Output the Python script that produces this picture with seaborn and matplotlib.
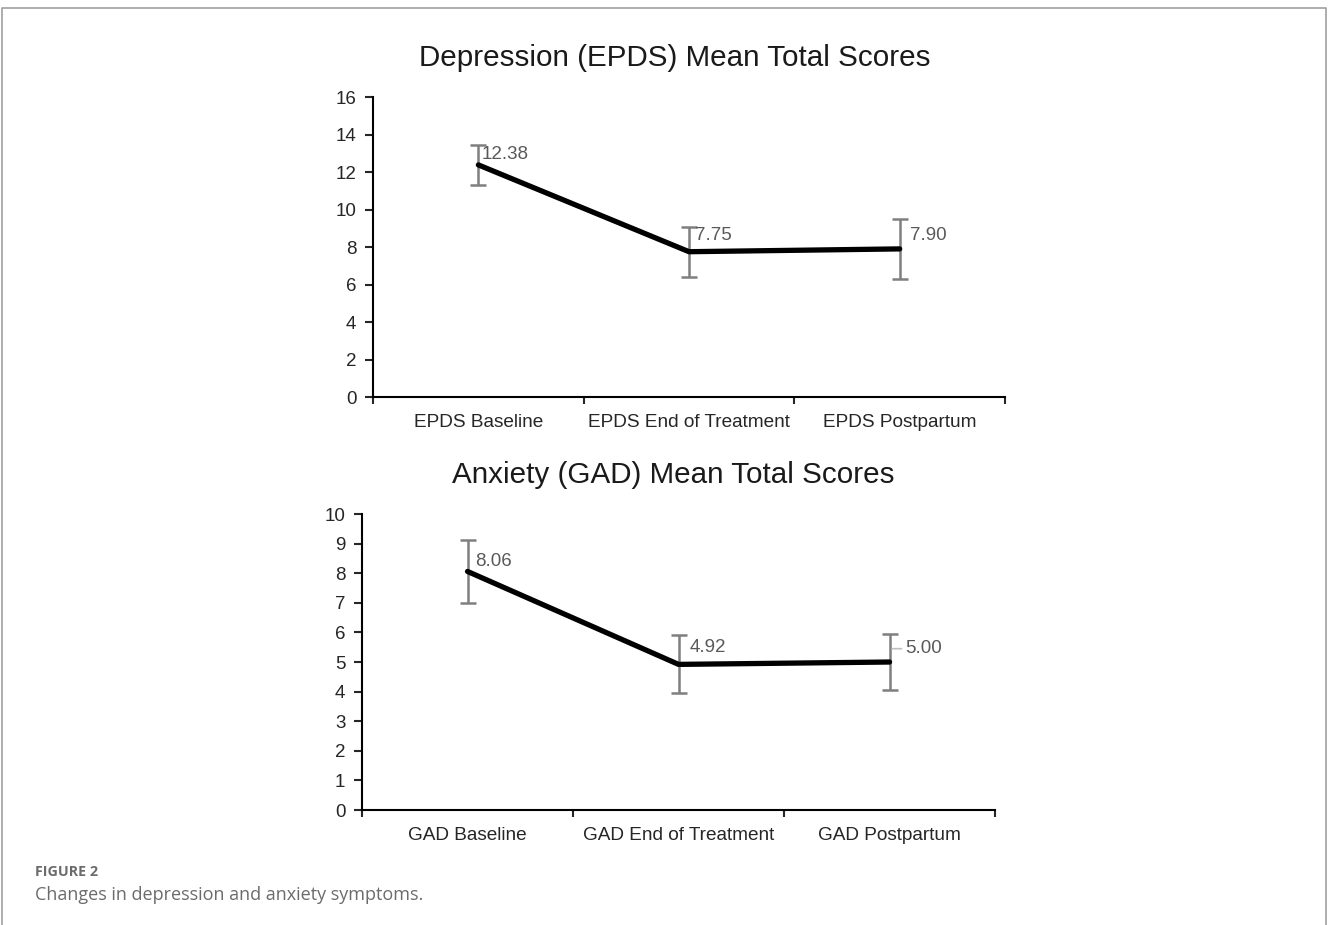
import matplotlib
matplotlib.use("Agg")
import matplotlib.pyplot as plt
import numpy as np
import pandas as pd
import seaborn as sns
from matplotlib.lines import Line2D

# values
epds_labels = ["EPDS Baseline", "EPDS End of Treatment", "EPDS Postpartum"]
epds_means = [12.38, 7.75, 7.90]
epds_err = [1.05, 1.33, 1.60]

gad_labels = ["GAD Baseline", "GAD End of Treatment", "GAD Postpartum"]
gad_means = [8.06, 4.92, 5.00]
gad_err = [1.05, 0.98, 0.95]

sns.set_style("white")
plt.rcParams['font.family'] = ['Liberation Sans', 'DejaVu Sans']

fig = plt.figure(figsize=(13.28, 9.25), dpi=100)
ax1 = fig.add_axes([0.2809, 0.5708, 0.4759, 0.3243])
ax2 = fig.add_axes([0.2726, 0.1243, 0.4767, 0.3200])


def panel(ax, labels, means, errs, title, ymax, ystep, offsets, title_x):
    df = pd.DataFrame({'time': labels, 'score': means})
    ax.errorbar(labels, means, yerr=errs, fmt='none', ecolor='#7f7f7f',
                elinewidth=1.8, capsize=6, capthick=1.8, zorder=2)
    sns.lineplot(data=df, x='time', y='score', ax=ax, color='black',
                 linewidth=3.8, sort=False, zorder=3)
    for i, (m, off) in enumerate(zip(means, offsets)):
        ax.annotate(f"{m:.2f}", xy=(i, m), xytext=off, textcoords='offset pixels',
                    ha='left', va='center', fontsize=13.5, color='#595959')
    ax.set_xlim(-0.5, 2.5)
    ax.set_ylim(0, ymax)
    ax.set_yticks(np.arange(0, ymax + 0.1, ystep))
    ax.set_xticks([-0.5, 0.5, 1.5, 2.5])
    ax.set_xticklabels([])
    ax.set_xticks([0, 1, 2], minor=True)
    ax.set_xticklabels(labels, minor=True)
    ax.tick_params(axis='x', which='major', direction='out', length=5, width=1.5, bottom=True)
    ax.tick_params(axis='x', which='minor', length=0, pad=12, labelsize=13.7)
    ax.tick_params(axis='y', direction='out', length=6, width=1.5, left=True, labelsize=13.5, pad=6)
    ax.set_xlabel('')
    ax.set_ylabel('')
    sns.despine(ax=ax)
    for s in ['left', 'bottom']:
        ax.spines[s].set_linewidth(1.5)
        ax.spines[s].set_color('black')
    ax.set_title(title, fontsize=21.3, pad=22, x=title_x, color='#1a1a1a')


panel(ax1, epds_labels, epds_means, epds_err, "Depression (EPDS) Mean Total Scores",
      16, 2, [(3, 10), (6, 16), (10, 13)], 0.478)
panel(ax2, gad_labels, gad_means, gad_err, "Anxiety (GAD) Mean Total Scores",
      10, 1, [(8, 10), (11, 17), (16, 14)], 0.492)

# small leader line next to the last GAD label
ax2.annotate("", xy=(2, gad_means[2] + 0.45), xytext=(12, 0), textcoords='offset pixels',
             arrowprops=dict(arrowstyle='-', color='#bfbfbf', lw=1.2, shrinkA=0, shrinkB=2))

# caption
fig.text(35 / 1328, 1 - 872 / 925, "FIGURE 2", fontsize=10.3, color='#6b6b6b',
         fontweight='bold', family=['Open Sans', 'DejaVu Sans'], va='center')
fig.text(35 / 1328, 1 - 895 / 925, "Changes in depression and anxiety symptoms.",
         fontsize=13, color='#6b6b6b', family=['Open Sans', 'DejaVu Sans'], va='center')

# page frame
fig.add_artist(Line2D([0.0015, 0.0015, 0.9985, 0.9985], [0, 1 - 8 / 925, 1 - 8 / 925, 0],
                      color='#a0a0a0', lw=1.2, transform=fig.transFigure))

fig.savefig("out.png", dpi=100, facecolor='white')
